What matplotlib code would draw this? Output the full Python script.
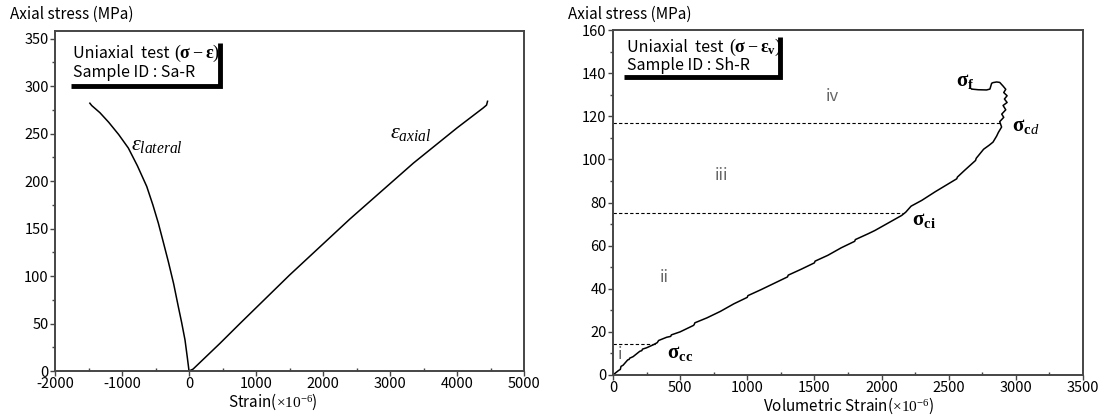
import numpy as np
import matplotlib
matplotlib.use('Agg')
import matplotlib.pyplot as plt
from matplotlib.ticker import MultipleLocator

plt.rcParams['font.family'] = ['Noto Sans CJK KR', 'DejaVu Sans']
plt.rcParams['mathtext.fontset'] = 'custom'
plt.rcParams['mathtext.rm'] = 'Liberation Serif'
plt.rcParams['mathtext.it'] = 'Liberation Serif:italic'
plt.rcParams['mathtext.bf'] = 'Liberation Serif:bold'
plt.rcParams['mathtext.sf'] = 'Liberation Serif'
plt.rcParams['axes.unicode_minus'] = False

# Left panel: uniaxial stress-strain (x1e-6)
lateral_strain = [0, -25, -60, -110, -160, -230, -309, -385, -458, -540, -631,
                  -770, -906, -1050, -1200, -1330, -1452, -1480]
lateral_stress = [0, 14, 32.7, 51, 67.8, 92, 115.2, 136, 155.7, 175, 194.3,
                  216, 234.8, 249, 262, 272, 279.5, 282]
axial_strain = [0, 60, 460, 760, 1500, 2400, 3350, 4000, 4390, 4440, 4455]
axial_stress = [0, 2, 29, 50, 101, 160, 219, 256, 277, 280, 284]

# Right panel: stress vs volumetric strain (x1e-6)
vol_strain = [0, 40, 55, 60, 75, 110, 120, 125, 150, 200, 215, 220, 250, 300, 330,
              340, 400, 430, 435, 500, 600, 605, 610, 700, 800, 900, 1000, 1005,
              1100, 1200, 1300, 1305, 1400, 1500, 1505, 1600, 1700, 1800, 1805,
              1900, 1950, 2050, 2150, 2180, 2220, 2300, 2400, 2480, 2560, 2565,
              2620, 2700, 2705, 2760, 2800, 2830, 2857, 2870, 2894, 2880, 2910,
              2895, 2925, 2905, 2935, 2915, 2935, 2910, 2925, 2905, 2880, 2857,
              2830, 2820, 2807, 2782, 2720, 2671]
vol_stress = [0, 2.0, 2.6, 4.0, 4.5, 7.0, 7.2, 7.8, 8.5, 11.0, 11.3, 12.0, 12.6, 14.0, 15.0,
              16.0, 17.5, 17.9, 18.6, 20.0, 23.0, 23.4, 24.2, 26.5, 29.5, 33.0, 36.0, 36.8,
              39.5, 42.5, 45.5, 46.3, 49.0, 52.0, 52.8, 55.5, 59.0, 62.0, 62.8,
              65.5, 67.0, 70.5, 74.0, 75.5, 78.3, 81.0, 85.0, 88.0, 91.0, 91.8,
              95.0, 99.5, 100.5, 104.7, 106.5, 108.0, 110.8, 112.5, 115.0, 117.5, 119.5,
              121.0, 123.0, 125.0, 126.4, 128.0, 129.5, 131.0, 132.5, 134.0, 135.7, 135.9,
              135.6, 135.3, 132.6, 132.2, 132.3, 132.6]

# threshold stresses and where their dashed lines end
thr_names = [r'$\mathbf{\sigma_{cc}}$', r'$\mathbf{\sigma_{ci}}$', r'$\mathbf{\sigma_{c}}_{\mathit{d}}$']
thr_stress = [14.3, 75.0, 117.0]
thr_end = [320, 2160, 2885]
thr_text_x = [405, 2230, 2975]
thr_text_y = [10.5, 72.5, 116.0]
sf_xy = (2555, 137.0)

region_labels = ['i', 'ii', 'iii', 'iv']
region_x = [52, 380, 812, 1631]
region_y = [9.5, 45, 92.6, 129]

fig = plt.figure(figsize=(11.07, 4.18), dpi=100)
ax1 = fig.add_axes([0.0497, 0.1124, 0.4237, 0.8134])
ax2 = fig.add_axes([0.5537, 0.1029, 0.4246, 0.8253])
renderer = fig.canvas.get_renderer()


def style_axes(ax):
    for s in ax.spines.values():
        s.set_color('#454545')
        s.set_linewidth(1.4)
    ax.tick_params(which='major', direction='out', length=3.5, width=1, labelsize=10.5,
                   color='#454545', pad=1)
    ax.tick_params(axis='x', which='minor', direction='in', length=2.5, width=1, color='#454545')
    ax.tick_params(axis='y', which='minor', direction='out', length=2.5, width=1, color='#454545')


def shadow_box(ax, x0, x1, y0, y1, tx, ty1, ty2, math, sample):
    ax.plot([x1, x1, x0], [y1, y0, y0], transform=ax.transAxes, color='black',
            lw=3.5, solid_capstyle='butt', solid_joinstyle='miter', clip_on=False)
    t = ax.text(tx, ty1, 'Uniaxial  test', transform=ax.transAxes, va='baseline',
                ha='left', fontsize=11.5)
    # put the bold serif part right after the plain text, on the same baseline
    bb = t.get_window_extent(renderer)
    xr = ax.transAxes.inverted().transform((bb.x1 + 5, bb.y0))[0]
    ax.text(xr, ty1, math, transform=ax.transAxes, va='baseline', ha='left', fontsize=13)
    ax.text(tx, ty2, sample, transform=ax.transAxes, va='baseline', ha='left', fontsize=11.5)


# ---- left panel
ax1.plot(lateral_strain, lateral_stress, color='black', lw=1.1)
ax1.plot(axial_strain, axial_stress, color='black', lw=1.1)
ax1.set_xlim(-2000, 5000)
ax1.set_ylim(0, 358)
ax1.xaxis.set_major_locator(MultipleLocator(1000))
ax1.xaxis.set_minor_locator(MultipleLocator(500))
ax1.yaxis.set_major_locator(MultipleLocator(50))
ax1.yaxis.set_minor_locator(MultipleLocator(25))
style_axes(ax1)
ax1.set_xlabel(r'Strain($\mathsf{\times10^{-6}}$)', fontsize=11, labelpad=0, x=0.465)
ax1.text(-870, 240, r'$\varepsilon_{lateral}$', fontsize=16, ha='left', va='center')
ax1.text(3000, 252, r'$\varepsilon_{axial}$', fontsize=16, ha='left', va='center')
shadow_box(ax1, 0.034, 0.352, 0.838, 0.965, 0.038, 0.921, 0.866,
           r'$(\mathbf{\sigma} - \mathbf{\varepsilon})$', 'Sample ID : Sa-R')

# ---- right panel
ax2.plot(vol_strain, vol_stress, color='black', lw=1.1)
for s, xe in zip(thr_stress, thr_end):
    ax2.plot([0, xe], [s, s], color='black', lw=0.8, ls=(0, (3, 2)))
for name, tx, ty in zip(thr_names, thr_text_x, thr_text_y):
    ax2.text(tx, ty, name, fontsize=15, ha='left', va='center')
ax2.text(sf_xy[0], sf_xy[1], r'$\mathbf{\sigma_{f}}$', fontsize=15, ha='left', va='center')
for lab, rx, ry in zip(region_labels, region_x, region_y):
    ax2.text(rx, ry, lab, fontsize=12, color='#666666', ha='center', va='center')
ax2.set_xlim(0, 3500)
ax2.set_ylim(0, 160)
ax2.xaxis.set_major_locator(MultipleLocator(500))
ax2.xaxis.set_minor_locator(MultipleLocator(250))
ax2.yaxis.set_major_locator(MultipleLocator(20))
ax2.yaxis.set_minor_locator(MultipleLocator(10))
style_axes(ax2)
ax2.set_xlabel(r'Volumetric Strain($\mathsf{\times10^{-6}}$)', fontsize=11, labelpad=0)
shadow_box(ax2, 0.023, 0.355, 0.864, 0.980, 0.030, 0.936, 0.883,
           r'$(\mathbf{\sigma} - \mathbf{\varepsilon_{v}})$', 'Sample ID : Sh-R')

fig.text(0.009, 0.966, 'Axial stress (MPa)', fontsize=11, ha='left', va='center')
fig.text(0.513, 0.966, 'Axial stress (MPa)', fontsize=11, ha='left', va='center')

fig.savefig('out.png', dpi=100)
